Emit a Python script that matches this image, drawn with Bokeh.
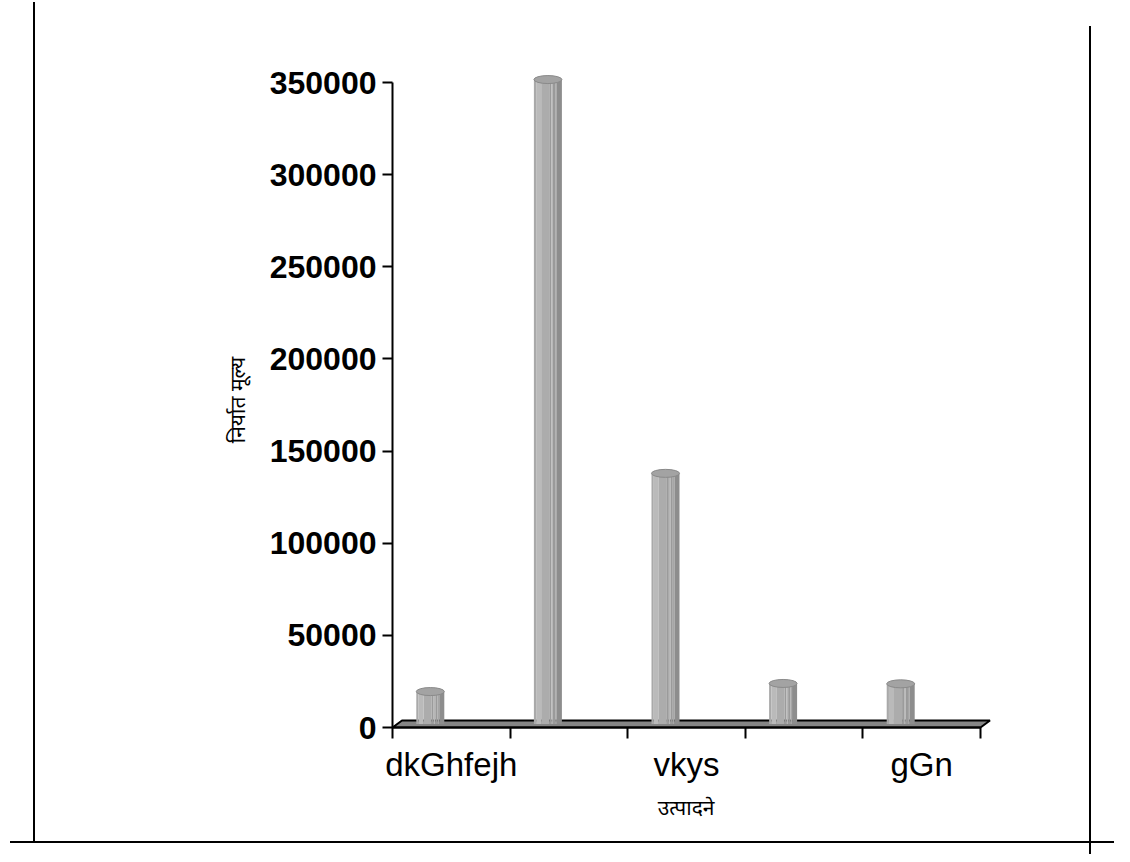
from bokeh.plotting import figure
from bokeh.models import FixedTicker, Range1d, NumeralTickFormatter, InlineStyleSheet, Title
from bokeh.embed import file_html
from bokeh.resources import INLINE

# ---------------- data ----------------
categories = ["dkGhfejh", "", "vkys", "", "gGn"]   # only every other label is shown
values = [17600, 349700, 136000, 22000, 21800]
y_ticks = [0, 50000, 100000, 150000, 200000, 250000, 300000, 350000]
x_title = "उत्पादने"
y_title = "निर्यात मूल्य"

# ---------------- layout constants (canvas pixels) ----------------
W, H = 1114, 854
X0_PX = 392.0          # x = 0
CAT_PX = 117.6         # one category
Y0_PX = 727.0          # y = 0
YMAX_PX = 82.0         # y = max tick
K = max(y_ticks) / (Y0_PX - YMAX_PX)   # data units per pixel (y)
FRAME_L, FRAME_R, FRAME_T, FRAME_B = 389, 1000, 70, 729
XTITLE_RIGHT_PX = 714  # right end of the x axis title

def dx(px):
    return px / CAT_PX

def dy(px):
    return px * K

def X(px):
    return (px - X0_PX) / CAT_PX

def Y(py):
    return (Y0_PX - py) * K

n = len(values)

# decorative page rules (document border lines around the chart)
css = """
:host::after {
  content: "";
  position: absolute;
  left: 0; top: 0; width: %dpx; height: %dpx;
  pointer-events: none;
  z-index: 100;
  background:
    linear-gradient(#000, #000) 33px 2px / 2px 841px no-repeat,
    linear-gradient(#000, #000) 10px 841px / 1105px 2px no-repeat,
    linear-gradient(#000, #000) 1089px 26px / 2px 840px no-repeat;
}
""" % (W, H)

p = figure(width=W, height=H,
           x_range=Range1d(X(FRAME_L), X(FRAME_R)),
           y_range=Range1d(Y(FRAME_B), Y(FRAME_T)),
           output_backend="svg", toolbar_location=None,
           min_border_left=FRAME_L, min_border_right=W - FRAME_R,
           min_border_top=FRAME_T, min_border_bottom=H - FRAME_B,
           stylesheets=[InlineStyleSheet(css=css)])
p.grid.visible = False
p.outline_line_color = None
p.background_fill_color = "white"
p.border_fill_color = "white"

DEV_FONT = "Noto Sans Devanagari, Lohit Devanagari, Mangal, FreeSans, Noto Sans"

# ---------- y axis ----------
ya = p.yaxis[0]
ya.ticker = FixedTicker(ticks=y_ticks, minor_ticks=[])
ya.formatter = NumeralTickFormatter(format="0")
ya.axis_line_color = None
ya.major_tick_out = 7
ya.major_tick_in = 3
ya.major_tick_line_color = "black"
ya.major_tick_line_width = 2
ya.minor_tick_line_color = None
ya.major_label_standoff = 6
ya.major_label_text_font = "Liberation Sans"
ya.major_label_text_font_style = "bold"
ya.major_label_text_font_size = "32px"
ya.major_label_text_color = "black"
ya.axis_label = y_title
ya.axis_label_standoff = 13
ya.axis_label_text_font = DEV_FONT
ya.axis_label_text_font_style = "normal"
ya.axis_label_text_font_size = "21px"
ya.axis_label_text_color = "black"

# ---------- x axis ----------
xa = p.xaxis[0]
label_pos = [i + 0.5 for i in range(n) if categories[i]]
xa.ticker = FixedTicker(ticks=label_pos, minor_ticks=list(range(n + 1)))
xa.major_label_overrides = {i + 0.5: categories[i] for i in range(n) if categories[i]}
xa.axis_line_color = None
xa.major_tick_line_color = None
xa.major_tick_out = 0
xa.major_tick_in = 0
xa.minor_tick_line_color = "black"
xa.minor_tick_line_width = 2
xa.minor_tick_out = 9
xa.minor_tick_in = 2
xa.major_label_standoff = 7
xa.major_label_text_font = "Liberation Sans"
xa.major_label_text_font_size = "33px"
xa.major_label_text_color = "black"

# x axis title, right-aligned so that it sits centred under the middle category
p.add_layout(Title(text=x_title, align="right", offset=FRAME_R - XTITLE_RIGHT_PX,
                   vertical_align="top", standoff=20,
                   text_font=DEV_FONT, text_font_style="normal",
                   text_font_size="21px", text_color="black"), "below")

# ---------- 3D floor ----------
DEPTH_X = dx(9.5)
DEPTH_Y = dy(7.0)
p.patch([0, n, n + DEPTH_X, DEPTH_X], [0, 0, DEPTH_Y, DEPTH_Y],
        fill_color="#858585", line_color="black", line_width=2)

# ---------- cylinders ----------
BAR_W = dx(28)
BAR_OFF = dx(-21)
BASE = dy(3.5)
strips = [(0.00, 0.08, "#a9a9a9"), (0.08, 0.26, "#bababa"), (0.26, 0.55, "#acacac"),
          (0.55, 0.62, "#9b9b9b"), (0.62, 0.68, "#b6b6b6"), (0.68, 0.76, "#9a9a9a"),
          (0.76, 0.82, "#a6a6a6"), (0.82, 1.00, "#8d8d8d")]
L, R, B, T, C = [], [], [], [], []
cx, cy = [], []
for i, v in enumerate(values):
    c = i + 0.5 + BAR_OFF
    left = c - BAR_W / 2
    for a, b, col in strips:
        L.append(left + a * BAR_W)
        R.append(left + b * BAR_W)
        B.append(BASE)
        T.append(BASE + v)
        C.append(col)
    cx.append(c)
    cy.append(BASE + v)
p.quad(left=L, right=R, bottom=B, top=T, fill_color=C, line_color=None)
p.ellipse(x=cx, y=cy, width=BAR_W, height=8, height_units="screen",
          fill_color="#a3a3a3", line_color="#8a8a8a", line_width=1)

# front edge of the floor (x axis line) and y axis line
p.segment(x0=[0], y0=[0], x1=[n], y1=[0], line_color="black", line_width=2)
p.segment(x0=[0], y0=[0], x1=[0], y1=[max(y_ticks)], line_color="black", line_width=2)

open("out.html", "w").write(file_html(p, INLINE))
